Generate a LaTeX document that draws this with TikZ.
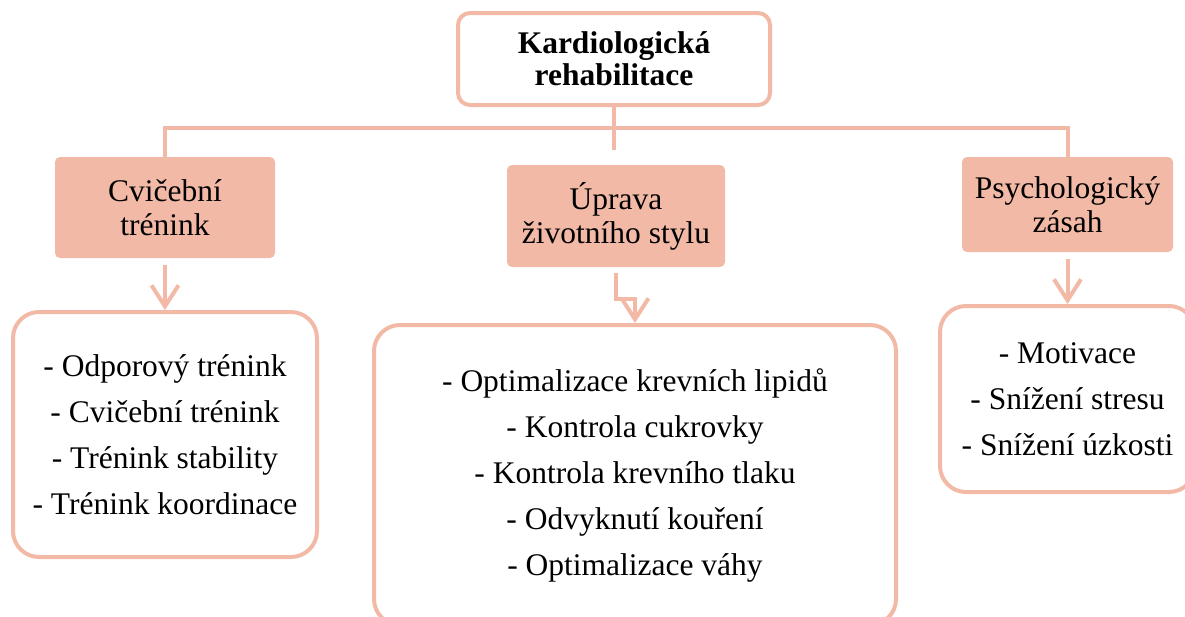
\documentclass[tikz,border=0pt]{standalone}
\usepackage{fontspec}
\setmainfont{Liberation Serif}
\usetikzlibrary{arrows.meta}

\definecolor{losos}{RGB}{242,186,166}

\begin{document}
\begin{tikzpicture}[x=1pt,y=-1pt,
    link/.style={draw=losos,line width=4pt},
    arr/.style={link,-{Straight Barb[length=21pt,width=27pt]}},
    hlava/.style={draw=losos,line width=4pt,fill=white,rounded corners=12pt,align=center,
        font=\fontsize{31.5}{32}\selectfont\bfseries,inner sep=0pt},
    oblast/.style={fill=losos,rounded corners=5pt,align=center,
        font=\fontsize{31.5}{34}\selectfont,inner sep=0pt},
    seznam/.style={draw=losos,line width=4pt,fill=white,rounded corners=26pt,align=center,
        font=\fontsize{31.5}{46}\selectfont,inner sep=0pt}]

    \useasboundingbox (0,0) rectangle (1185,616);

    % boxes
    \node[hlava,minimum width=312pt,minimum height=92pt] (kr) at (614,59) {Kardiologická\\rehabilitace};

    \node[oblast,minimum width=220pt,minimum height=101pt] (cv) at (165,207.5) {Cvičební\\trénink};
    \node[oblast,minimum width=218pt,minimum height=102pt] (up) at (616,216) {Úprava\\životního stylu};
    \node[oblast,minimum width=211pt,minimum height=95pt] (ps) at (1067.5,204.5) {Psychologický\\zásah};

    \node[seznam,minimum width=304pt,minimum height=245pt] (cvl) at (165,434.5)
        {- Odporový trénink\\- Cvičební trénink\\- Trénink stability\\- Trénink koordinace};
    \node[seznam,minimum width=522pt,minimum height=300pt] (upl) at (635,475)
        {- Optimalizace krevních lipidů\\- Kontrola cukrovky\\- Kontrola krevního tlaku\\- Odvyknutí kouření\\- Optimalizace váhy};
    \node[seznam,minimum width=255pt,minimum height=186pt] (psl) at (1067.5,399)
        {- Motivace\\- Snížení stresu\\- Snížení úzkosti};

    % spojky
    \coordinate (bus) at (0,128);
    \coordinate (mid) at ([yshift=15pt]up.north);
    \draw[link] (cv.north) -- (cv.north |- bus) -- (ps.north |- bus) -- (ps.north);
    \draw[link] (kr.south) -- (kr.south |- mid);

    % sipky
    \draw[arr] ([yshift=-7pt]cv.south) -- (cvl.north);
    \draw[arr] ([yshift=-6pt]up.south) -- ++(0,26) -| (upl.north);
    \draw[arr] ([yshift=-7pt]ps.south) -- (psl.north);

\end{tikzpicture}
\end{document}
